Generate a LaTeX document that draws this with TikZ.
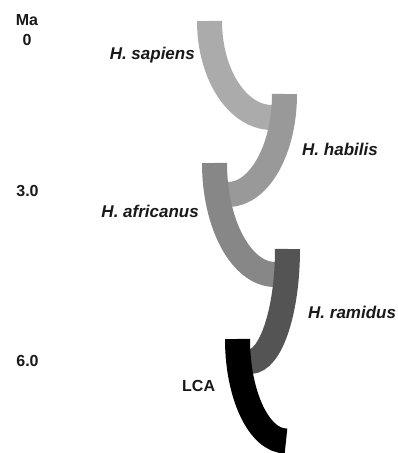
\documentclass[tikz,border=0pt]{standalone}
\usepackage{fontspec}
\setmainfont{Liberation Sans}
\begin{document}
\begin{tikzpicture}[x=1pt,y=1pt,
  band/.style={line width=25pt,line cap=butt},
  lab/.style={inner sep=0pt,font=\fontsize{17}{20}\selectfont\bfseries\itshape,text=black!90},
  tick/.style={inner sep=0pt,font=\fontsize{16}{19}\selectfont\bfseries,text=black!90}]
\useasboundingbox[fill=white] (0,0) rectangle (398,453);
\definecolor{csap}{gray}{0.67}
\definecolor{chab}{gray}{0.60}
\definecolor{cafr}{gray}{0.53}
\definecolor{cram}{gray}{0.33}
\definecolor{clca}{gray}{0.0}
% bands (lower ones drawn on top)
\coordinate (sapT) at (209.5,432);
\coordinate (habT) at (284.5,359);
\coordinate (afrT) at (214.5,290);
\coordinate (ramT) at (287.5,204);
\coordinate (lcaT) at (237.5,114);
\draw[band,draw=csap] (sapT) arc[start angle=180,end angle=270,x radius=62.5,y radius=96.5];
\draw[band,draw=chab] (habT) arc[start angle=0,end angle=-90,x radius=56.5,y radius=100.5];
\draw[band,draw=cafr] (afrT) arc[start angle=180,end angle=270,x radius=60.5,y radius=111.5];
\draw[band,draw=cram] (ramT) arc[start angle=0,end angle=-90,x radius=37.5,y radius=112.5];
\draw[band,draw=clca] (lcaT) arc[start angle=180,end angle=270,x radius=48.5,y radius=102];
% labels
\node[lab,anchor=base east] (lsap) at (195,393) {H. sapiens};
\node[lab,anchor=base west] (lhab) at (302,297) {H. habilis};
\node[lab,anchor=base east] (lafr) at (199,235) {H. africanus};
\node[lab,anchor=base west] (lram) at (308,134) {H. ramidus};
\node[tick,anchor=base west] (llca) at (182,61) {LCA};
% time axis
\node[tick,anchor=base] (ma) at (27,427) {Ma};
\node[tick,anchor=base] (t0) at (27,407) {0};
\node[tick,anchor=base] (t3) at (27.5,256) {3.0};
\node[tick,anchor=base] (t6) at (27.5,86) {6.0};
\end{tikzpicture}
\end{document}
